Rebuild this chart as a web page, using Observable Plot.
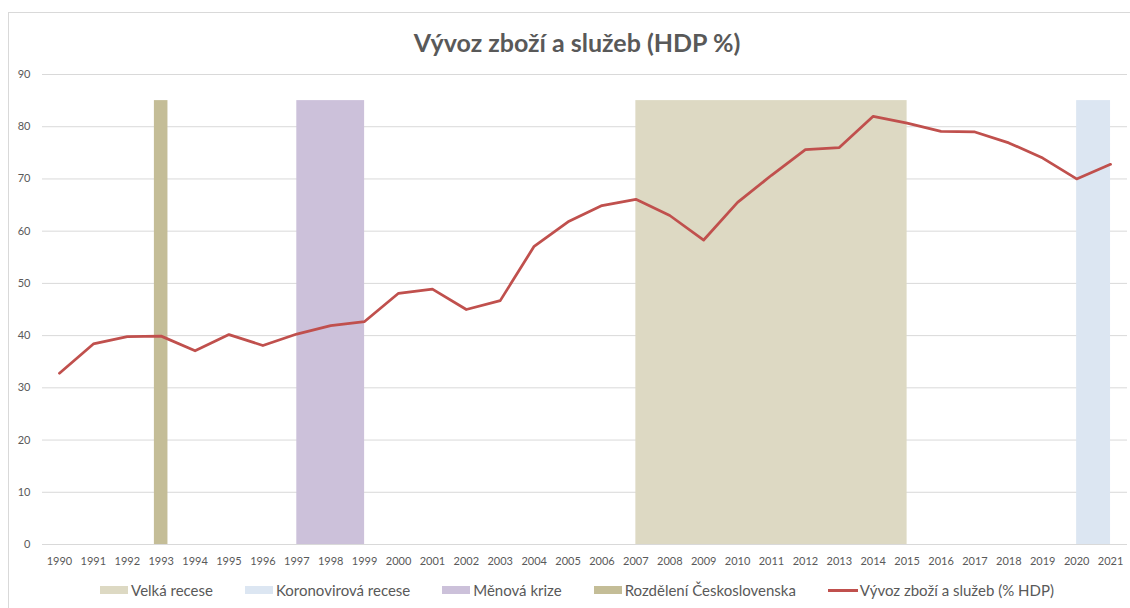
<!DOCTYPE html>
<html>
<head>
<meta charset="utf-8">
<script src="https://cdn.jsdelivr.net/npm/d3@7"></script>
<script src="https://cdn.jsdelivr.net/npm/@observablehq/plot@0.6"></script>
<style>
  html, body { margin: 0; padding: 0; background: #fff; width: 1130px; height: 608px; overflow: hidden; }
  body { position: relative; font-family: Lato, "Open Sans", sans-serif; color: #595959; }
  #frame { position: absolute; left: 8px; top: 12px; width: 1200px; height: 700px; border: 1px solid #d9d9d9; box-sizing: border-box; }
  #title { position: absolute; left: 0; top: 26px; width: 1154px; text-align: center; font-size: 25px; font-weight: bold; color: #595959; line-height: 32px; }
  #chart { position: absolute; left: 0; top: 60px; }
  #legend { position: absolute; left: 0; top: 580px; width: 1154px; display: flex; justify-content: center; gap: 32px; font-size: 15px; line-height: 20px; color: #595959; }
  .item { display: flex; align-items: center; }
  .sw { width: 28px; height: 8px; margin-right: 3px; }
  .ln { width: 30px; height: 3px; margin-right: 2px; }
</style>
</head>
<body>
<div id="frame"></div>
<div id="title">Vývoz zboží a služeb (HDP %)</div>
<div id="chart"></div>
<div id="legend"></div>
<script>
const years = d3.range(1990, 2022);
const exportsGdp = [32.8, 38.4, 39.8, 39.9, 37.1, 40.2, 38.1, 40.3, 41.9, 42.7,
  48.1, 48.9, 45.0, 46.7, 57.1, 61.8, 64.9, 66.1, 63.0, 58.3,
  65.5, 70.7, 75.6, 76.0, 82.0, 80.7, 79.1, 79.0, 76.9, 74.0,
  70.0, 72.8];
const bandNames = ["Velká recese", "Koronovirová recese", "Měnová krize", "Rozdělení Československa"];
const bandStarts = [2007, 2020, 1997, 1992.8];
const bandEnds = [2015, 2021, 1999, 1993.2];
const bandTop = 85;
const bandColors = ["#ddd9c3", "#dce6f2", "#ccc1da", "#c4bd97"];
const lineName = "Vývoz zboží a služeb (% HDP)";
const lineColor = "#c0504d";
const yTicks = d3.range(0, 100, 10);

const series = years.map((y, i) => ({year: y, value: exportsGdp[i]}));
const bands = bandNames.map((n, i) => ({name: n, x1: bandStarts[i], x2: bandEnds[i], top: bandTop, color: bandColors[i]}));

const plot = Plot.plot({
  width: 1130,
  height: 515,
  marginTop: 14,
  marginBottom: 31,
  marginLeft: 42,
  marginRight: 3,
  style: {fontFamily: "Lato, 'Open Sans', sans-serif", fontSize: "11px", color: "#595959", background: "transparent"},
  x: {domain: [1989.5, 2021.5], ticks: years, tickFormat: d => String(d), label: null, tickSize: 0, tickPadding: 13},
  y: {domain: [0, 90], ticks: yTicks, label: null, tickSize: 0, tickPadding: 12},
  marks: [
    Plot.ruleY(yTicks, {stroke: "#d9d9d9", strokeWidth: 1}),
    Plot.rectY(bands, {x1: "x1", x2: "x2", y1: 0, y2: "top", fill: "color"}),
    Plot.line(series, {x: "year", y: "value", stroke: lineColor, strokeWidth: 2.75, strokeLinejoin: "round", strokeLinecap: "round"}),
    Plot.axisX({ticks: years, tickFormat: d => String(d), tickSize: 0, tickPadding: 13, fill: "#595959"}),
    Plot.axisY({ticks: yTicks, tickSize: 0, tickPadding: 12, fill: "#595959"})
  ]
});
document.getElementById("chart").appendChild(plot);

const legend = document.getElementById("legend");
bands.forEach(b => {
  const it = document.createElement("div");
  it.className = "item";
  it.innerHTML = `<span class="sw" style="background:${b.color}"></span><span>${b.name}</span>`;
  legend.appendChild(it);
});
const li = document.createElement("div");
li.className = "item";
li.innerHTML = `<span class="ln" style="background:${lineColor}"></span><span>${lineName}</span>`;
legend.appendChild(li);
</script>
</body>
</html>
